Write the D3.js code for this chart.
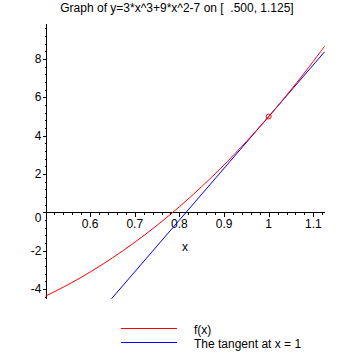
<!doctype html>
<html lang="en">
<head>
<meta charset="utf-8">
<title>tangent plot</title>
<style>
    body { margin: 0; background: #fff; }
    svg { display: block; }
    text { font-family: "Liberation Sans", Arial, sans-serif; fill: #000; white-space: pre; }
</style>
</head>
<body>
<svg id="chart" width="355" height="355"></svg>
<script src="https://cdn.jsdelivr.net/npm/d3@7/dist/d3.min.js"></script>
<script>
    // values
    let curveX = [0.5, 0.55, 0.6, 0.65, 0.7, 0.75, 0.8, 0.85, 0.9, 0.95, 1.0, 1.05, 1.1, 1.125];
    let curveY = [-4.375, -3.778, -3.112, -2.374, -1.561, -0.672, 0.296, 1.345, 2.477, 3.695, 5.0, 6.395, 7.883, 8.662];
    let tangentX = [0.648, 1.125];
    let tangentY = [-4.504, 8.375];
    let pointX = [1];
    let pointY = [5];
    let xTicks = [0.6, 0.7, 0.8, 0.9, 1, 1.1];
    let xTickLabels = ["0.6", "0.7", "0.8", "0.9", "1", "1.1"];
    let yTicks = [-4, -2, 0, 2, 4, 6, 8];
    let yTickLabels = ["-4", "-2", "0", "2", "4", "6", "8"];
    let legendLabels = ["f(x)", "The tangent at x = 1"];
    let legendColors = ["#ff0000", "#0000ff"];

    let svg = d3.select("#chart");

    let x = d3.scaleLinear().domain([0.5, 1.125]).range([45.5, 324.5]);
    let y = d3.scaleLinear().domain([-4.52, 9.83]).range([299, 24]);

    // title
    svg.append("text")
        .attr("x", 177).attr("y", 12)
        .attr("text-anchor", "middle")
        .style("font-size", "12px")
        .text("Graph of y=3*x^3+9*x^2-7 on [  .500, 1.125]");

    let axes = svg.append("g").attr("stroke", "#000").attr("stroke-width", 1).attr("shape-rendering", "crispEdges");

    // y axis at x = 0.5
    let ax = Math.round(x(0.5)) + 0.5;
    axes.append("line").attr("x1", ax).attr("x2", ax).attr("y1", y(9.83)).attr("y2", y(-4.52));
    let yMinor = d3.range(-11, 25).map(function (i) { return i * 0.4; });
    axes.selectAll(".ymin").data(yMinor).enter().append("line")
        .attr("x1", ax - 2).attr("x2", ax)
        .attr("y1", function (d) { return Math.round(y(d)) + 0.5; })
        .attr("y2", function (d) { return Math.round(y(d)) + 0.5; });
    axes.selectAll(".ymaj").data(yTicks).enter().append("line")
        .attr("x1", ax - 4).attr("x2", ax)
        .attr("y1", function (d) { return Math.round(y(d)) + 0.5; })
        .attr("y2", function (d) { return Math.round(y(d)) + 0.5; });

    // x axis at y = 0
    let ay = Math.round(y(0)) + 0.5;
    axes.append("line").attr("x1", ax).attr("x2", x(1.125)).attr("y1", ay).attr("y2", ay);
    let xMinor = d3.range(26, 57).map(function (i) { return i * 0.02; });
    axes.selectAll(".xmin").data(xMinor).enter().append("line")
        .attr("x1", function (d) { return Math.round(x(d)) + 0.5; })
        .attr("x2", function (d) { return Math.round(x(d)) + 0.5; })
        .attr("y1", ay).attr("y2", ay + 2);
    axes.selectAll(".xmaj").data(xTicks).enter().append("line")
        .attr("x1", function (d) { return Math.round(x(d)) + 0.5; })
        .attr("x2", function (d) { return Math.round(x(d)) + 0.5; })
        .attr("y1", ay).attr("y2", ay + 4);

    // tick labels
    svg.selectAll(".xl").data(xTicks).enter().append("text")
        .attr("x", function (d) { return x(d); })
        .attr("y", ay + 15)
        .attr("text-anchor", "middle")
        .style("font-size", "12px")
        .text(function (d, i) { return xTickLabels[i]; });
    svg.selectAll(".yl").data(yTicks).enter().append("text")
        .attr("x", ax - 5)
        .attr("y", function (d) { return y(d) + 4 + (d === 0 ? 6 : 0); })
        .attr("text-anchor", "end")
        .style("font-size", "12px")
        .text(function (d, i) { return yTickLabels[i]; });

    svg.append("text")
        .attr("x", 185).attr("y", 251)
        .attr("text-anchor", "middle")
        .style("font-size", "12px")
        .text("x");

    let line = d3.line()
        .x(function (d) { return x(d[0]); })
        .y(function (d) { return y(d[1]); });

    svg.append("path")
        .datum(d3.zip(tangentX, tangentY))
        .attr("d", line)
        .attr("fill", "none").attr("stroke", "#0000ff").attr("stroke-width", 1);

    svg.append("path")
        .datum(d3.zip(curveX, curveY))
        .attr("d", line.curve(d3.curveCatmullRom))
        .attr("fill", "none").attr("stroke", "#ff0000").attr("stroke-width", 1);

    svg.selectAll(".pt").data(d3.zip(pointX, pointY)).enter().append("circle")
        .attr("cx", function (d) { return x(d[0]); })
        .attr("cy", function (d) { return y(d[1]); })
        .attr("r", 2.5)
        .attr("fill", "none").attr("stroke", "#ff0000").attr("stroke-width", 1);

    // legend
    let leg = svg.selectAll(".leg").data(legendLabels).enter().append("g")
        .attr("transform", function (d, i) { return "translate(0," + (328.5 + i * 14) + ")"; });
    leg.append("line")
        .attr("x1", 121).attr("x2", 177).attr("y1", 0).attr("y2", 0)
        .attr("stroke", function (d, i) { return legendColors[i]; })
        .attr("shape-rendering", "crispEdges");
    leg.append("text")
        .attr("x", 194).attr("y", 5)
        .style("font-size", "12px")
        .text(function (d) { return d; });
</script>
</body>
</html>
